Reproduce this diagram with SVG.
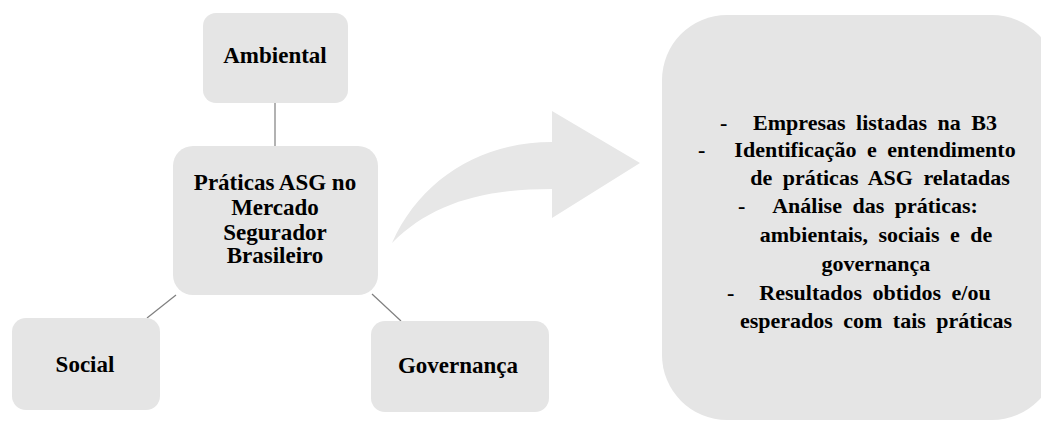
<svg xmlns="http://www.w3.org/2000/svg" width="1041" height="422" viewBox="0 0 1041 422">
<style>
.box{fill:#e5e5e5;}
.lbl{font-family:"Liberation Serif","Times New Roman",serif;font-weight:bold;font-size:23px;fill:#000;text-anchor:middle;}
.rt{font-family:"Liberation Serif","Times New Roman",serif;font-weight:bold;font-size:22px;fill:#000;word-spacing:5px;}
.mid{text-anchor:middle;}
.conn line{stroke:#7f7f7f;stroke-width:1.2;}
</style>
<rect width="1041" height="422" fill="#ffffff"/>
<g id="connectors" class="conn">
<line x1="275" y1="103" x2="275" y2="147"/>
<line x1="176" y1="295" x2="147" y2="318"/>
<line x1="372" y1="294" x2="401" y2="321"/>
</g>
<g id="ambiental">
<rect class="box" x="203" y="13" width="145" height="90" rx="13"/>
<text class="lbl" x="275" y="63">Ambiental</text>
</g>
<g id="centro">
<rect class="box" x="173" y="146" width="205" height="149" rx="20"/>
<text class="lbl" x="275" y="190">Práticas ASG no</text>
<text class="lbl" x="275" y="215">Mercado</text>
<text class="lbl" x="275" y="240">Segurador</text>
<text class="lbl" x="275" y="263">Brasileiro</text>
</g>
<g id="social">
<rect class="box" x="12" y="318" width="148" height="92" rx="14"/>
<text class="lbl" x="85" y="372">Social</text>
</g>
<g id="governanca">
<rect class="box" x="371" y="321" width="178" height="91" rx="14"/>
<text class="lbl" x="458" y="373">Governança</text>
</g>
<g id="seta">
<path d="M 392 243 C 420 180, 480 142, 552 142 L 552 111 L 640 163 L 552 218 L 552 189 C 480 189, 430 205, 392 243 Z" fill="#e7e7e7"/>
</g>
<g id="resultados">
<rect class="box" x="662" y="15" width="395" height="405" rx="65"/>
<text class="rt" x="720" y="130">-</text>
<text class="rt mid" x="875" y="130">Empresas listadas na B3</text>
<text class="rt" x="698" y="157">-</text>
<text class="rt mid" x="875" y="157">Identificação e entendimento</text>
<text class="rt mid" x="880" y="185">de práticas ASG relatadas</text>
<text class="rt" x="738" y="213">-</text>
<text class="rt mid" x="875" y="213">Análise das práticas:</text>
<text class="rt mid" x="876" y="242">ambientais, sociais e de</text>
<text class="rt mid" x="876" y="271">governança</text>
<text class="rt" x="727" y="300">-</text>
<text class="rt mid" x="875" y="300">Resultados obtidos e/ou</text>
<text class="rt mid" x="876" y="328">esperados com tais práticas</text>
</g>
</svg>
